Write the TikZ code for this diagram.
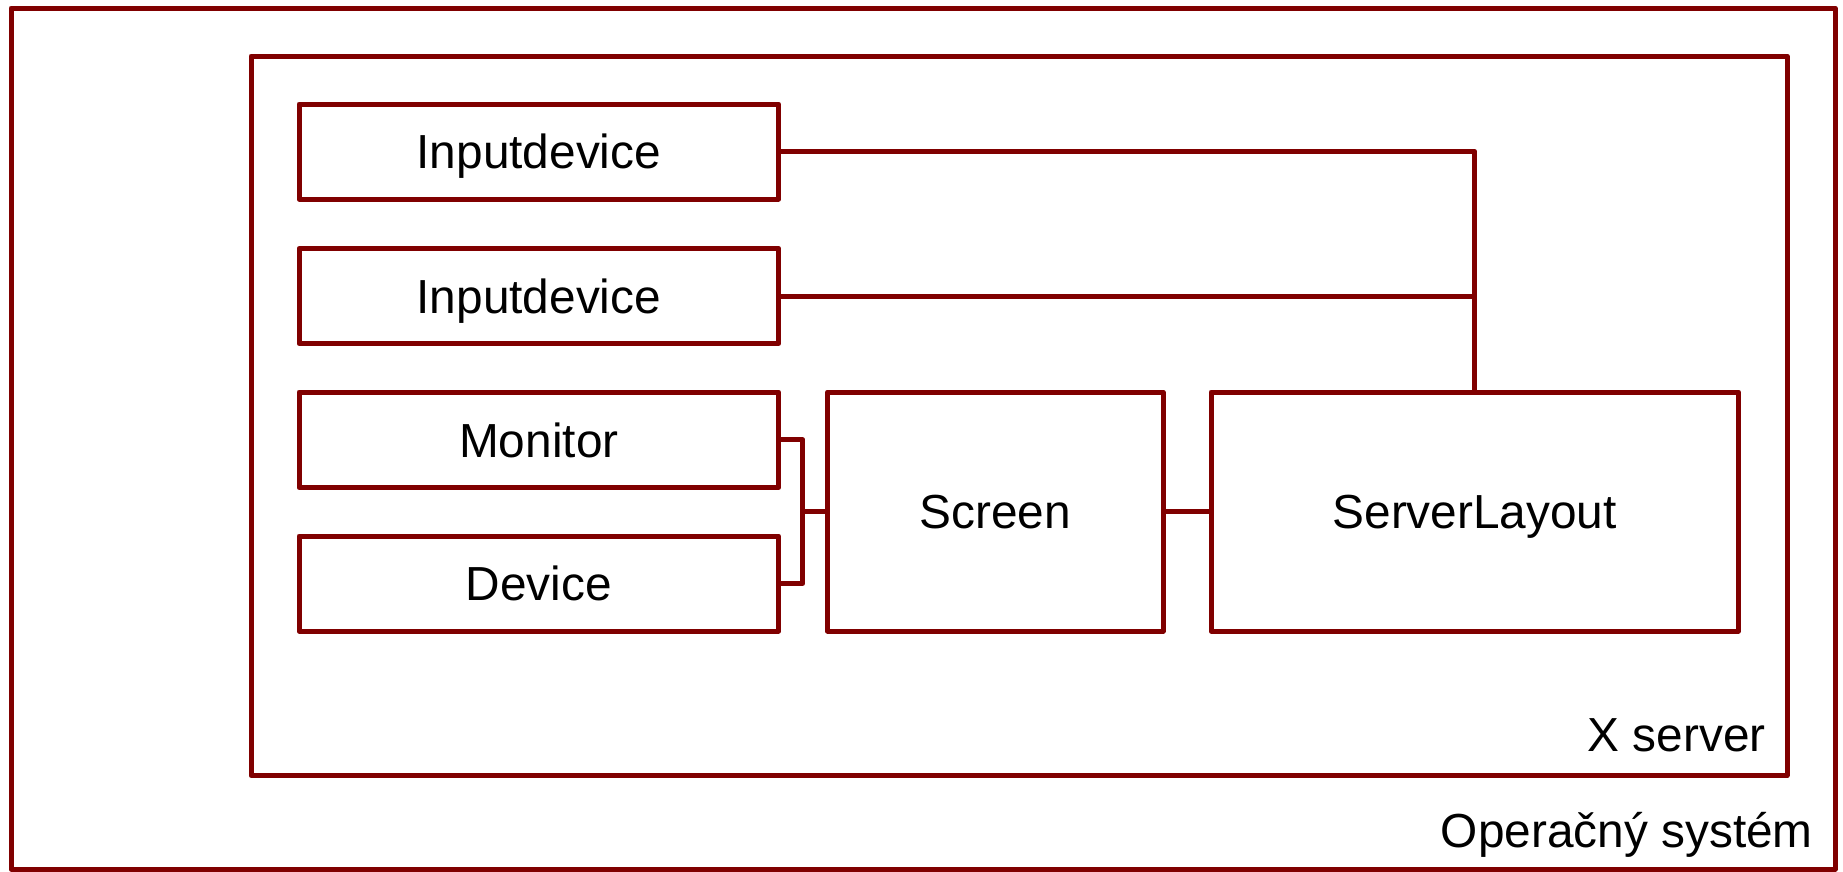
\documentclass[tikz,border=0pt]{standalone}
\usepackage{fontspec}
\setmainfont{Liberation Sans}
\definecolor{xred}{RGB}{128,0,0}
\begin{document}
\begin{tikzpicture}[x=1pt,y=-1pt,
  lbl/.style={font=\fontsize{47.8}{56}\selectfont, inner sep=0pt},
  box/.style={draw=xred, line width=5pt, line join=round, rectangle, inner sep=0pt,
    font=\fontsize{47.8}{56}\selectfont, text height=34.5pt, text depth=0pt},
  conn/.style={draw=xred, line width=5pt, line join=round}]
\useasboundingbox (0,0) rectangle (1843,871);
\node[box, minimum width=1824pt, minimum height=861pt] (os) at (923,438.5) {};
\node[box, minimum width=1536pt, minimum height=719.5pt] (xs) at (1019,415.75) {};
\node[box, minimum width=479.7pt, minimum height=95pt] (in1) at (538.85,151.5) {Inputdevice};
\node[box, minimum width=479.7pt, minimum height=95pt] (in2) at (538.85,296) {Inputdevice};
\node[box, minimum width=479.7pt, minimum height=95.5pt] (mon) at (538.85,439.75) {Monitor};
\node[box, minimum width=479.7pt, minimum height=95pt] (dev) at (538.85,583.5) {Device};
\node[box, minimum width=335.7pt, minimum height=239pt] (scr) at (995.15,511.5) {Screen};
\node[box, minimum width=527.4pt, minimum height=239pt] (sl) at (1474.7,511.5) {ServerLayout};
\coordinate (brk) at (802.7,511.5);
\draw[conn] (mon.east) -| (brk) |- (dev.east);
\draw[conn] (brk) -- (scr.west);
\draw[conn] (scr.east) -- (sl.west);
\draw[conn] (in1.east) -| (sl.north);
\draw[conn] (in2.east) -- (in2.east -| sl.north);
\node[lbl, anchor=base east] (xlbl) at (1766,751) {X server};
\node[lbl, anchor=base east] (oslbl) at (1813,847) {Operačný systém};
\end{tikzpicture}
\end{document}
